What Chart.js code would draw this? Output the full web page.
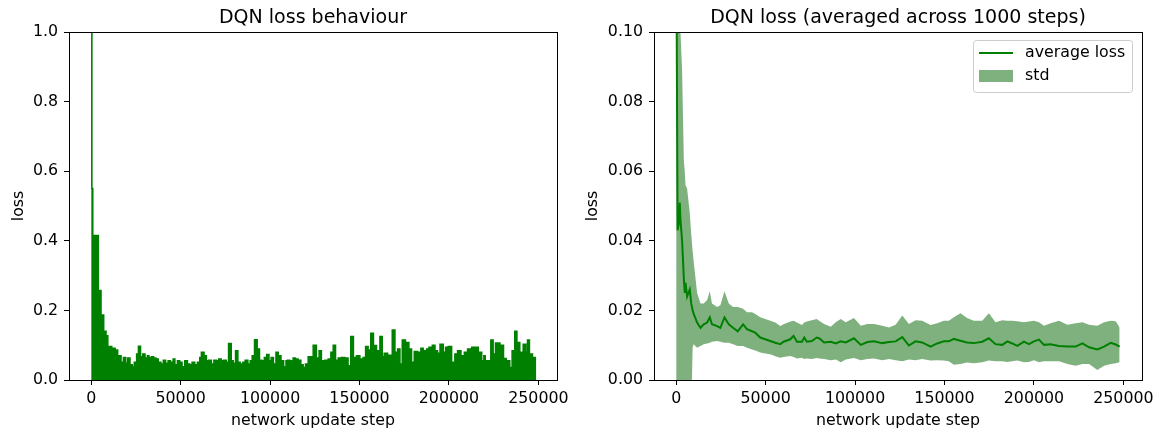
<!DOCTYPE html>
<html lang="en">
<head>
<meta charset="UTF-8">
<title>DQN loss</title>
<script src="https://cdn.jsdelivr.net/npm/chart.js"></script>
<style>
    body { margin: 0; background: #fff; }
    .wrap { position: relative; width: 1163px; height: 435px; }
    #lossChart { position: absolute; left: 0; top: 0; }
    #avgChart { position: absolute; left: 578px; top: 0; }
</style>
</head>
<body>
<div class="wrap">
    <canvas id="lossChart" width="578" height="435"></canvas>
    <canvas id="avgChart" width="585" height="435"></canvas>
</div>
<script>
const X_TICKS = [0, 50000, 100000, 150000, 200000, 250000];
const LOSS_Y_TICKS = [0, 0.2, 0.4, 0.6, 0.8, 1.0];
const AVG_Y_TICKS = [0, 0.02, 0.04, 0.06, 0.08, 0.10];

// raw loss: upper edge of the dense trace, each value holds until the next step
const LOSS_STEPS = [
    0, 400, 900, 2100, 2500, 4000, 5500, 7000, 8300, 9300,
    11500, 13400, 14800, 15600, 16700, 18000, 19300, 20400, 21700, 23000,
    24100, 25400, 26400, 27600, 28800, 30100, 31400, 32300, 33800, 34900,
    36200, 37500, 39000, 40300, 41600, 43000, 44300, 45800, 46800, 48200,
    49500, 50800, 52300, 53800, 55100, 56400, 57900, 59400, 60700, 61600,
    63100, 64400, 65700, 67200, 68600, 69900, 71200, 72700, 74000, 75500,
    76800, 78300, 79400, 80700, 82000, 83300, 84800, 86100, 87600, 88900,
    90000, 91300, 92800, 94100, 95400, 96800, 98100, 99400, 100600, 101900,
    103300, 104600, 106100, 107600, 108900, 109700, 111000, 112900, 114200, 115700,
    117200, 118500, 119800, 121300, 124100, 125900, 127400, 128700, 130600, 132500,
    134000, 135300, 136600, 138100, 139900, 141800, 143600, 145100, 146600, 148300,
    150200, 152000, 153400, 154800, 156300, 157800, 159500, 161400, 162700, 163800,
    165700, 168300, 169800, 171300, 172600, 173900, 175700, 177600, 179100, 180600,
    182500, 184300, 185600, 187500, 188800, 190700, 192200, 193600, 195000, 196800,
    198100, 199600, 201500, 203300, 204800, 206700, 208600, 210400, 212700, 216400,
    218300, 219500, 220300, 221000, 223400, 224700, 226000, 228500, 230500, 232000,
    234000, 235300, 236800, 238000, 239600, 241500, 243000, 243900, 245000, 246700,
    248300
];
const LOSS_PEAK = [
    1.2, 0.55, 0.415, 0.38, 0.415, 0.257, 0.187, 0.14, 0.127, 0.096,
    0.091, 0.086, 0.055, 0.07, 0.051, 0.065, 0.048, 0.063, 0.044, 0.038,
    0.051, 0.075, 0.097, 0.067, 0.075, 0.063, 0.07, 0.065, 0.067, 0.063,
    0.06, 0.051, 0.046, 0.057, 0.048, 0.055, 0.051, 0.06, 0.044, 0.055,
    0.051, 0.038, 0.055, 0.046, 0.044, 0.051, 0.044, 0.051, 0.065, 0.08,
    0.07, 0.055, 0.057, 0.046, 0.057, 0.055, 0.06, 0.055, 0.057, 0.051,
    0.105, 0.055, 0.048, 0.084, 0.051, 0.046, 0.051, 0.057, 0.046, 0.055,
    0.07, 0.116, 0.089, 0.057, 0.055, 0.065, 0.073, 0.055, 0.065, 0.046,
    0.08, 0.07, 0.055, 0.038, 0.055, 0.057, 0.055, 0.063, 0.06, 0.057,
    0.044, 0.036, 0.046, 0.067, 0.10, 0.063, 0.084, 0.055, 0.057, 0.06,
    0.08, 0.10, 0.057, 0.063, 0.065, 0.063, 0.041, 0.125, 0.065, 0.07,
    0.06, 0.065, 0.096, 0.086, 0.134, 0.099, 0.084, 0.125, 0.067, 0.077,
    0.071, 0.144, 0.08, 0.089, 0.046, 0.115, 0.108, 0.089, 0.051, 0.082,
    0.08, 0.091, 0.084, 0.089, 0.094, 0.10, 0.084, 0.077, 0.103, 0.08,
    0.094, 0.096, 0.051, 0.075, 0.084, 0.07, 0.08, 0.089, 0.094, 0.08,
    0.055, 0.07, 0.05, 0.055, 0.115, 0.075, 0.106, 0.10, 0.062, 0.055,
    0.036, 0.084, 0.14, 0.108, 0.08, 0.103, 0.08, 0.115, 0.075, 0.065,
    0
];

// averaged loss with its std band
const AVG_STEPS = [
    0, 300, 800, 1500, 2000, 2400, 3300, 4300, 4800, 5200,
    6100, 7600, 8400, 9200, 9800, 11700, 13600, 15400, 17300, 18800,
    20000, 22900, 24700, 27000, 29400, 31800, 34400, 37400, 39600, 42400,
    44200, 47000, 49800, 52600, 55400, 58200, 60000, 63800, 65600, 67500,
    70300, 71600, 73000, 75800, 78600, 79900, 82700, 86400, 89200, 92000,
    94800, 99400, 103200, 106900, 110600, 115200, 119000, 122700, 126400, 130100,
    133800, 137500, 142200, 145900, 149600, 152400, 155200, 158900, 162600, 166400,
    171100, 174800, 178500, 182300, 185100, 187900, 190700, 194400, 197200, 200000,
    202800, 205600, 209300, 214000, 218700, 223300, 227100, 230800, 235450, 239200,
    242900, 245700, 247900
];
const AVG_LOSS = [
    0.12, 0.10, 0.043, 0.045, 0.051, 0.046, 0.040, 0.029, 0.025, 0.028,
    0.024, 0.026, 0.022, 0.020, 0.019, 0.0165, 0.015, 0.016, 0.0165, 0.018,
    0.016, 0.0155, 0.015, 0.018, 0.016, 0.015, 0.014, 0.016, 0.0146, 0.014,
    0.0136, 0.0122, 0.0117, 0.0112, 0.0107, 0.0103, 0.011, 0.0117, 0.0127, 0.011,
    0.011, 0.0122, 0.011, 0.0112, 0.0122, 0.012, 0.0108, 0.011, 0.0105, 0.0111,
    0.0108, 0.012, 0.0101, 0.0109, 0.0111, 0.0106, 0.0109, 0.0111, 0.0123, 0.0099,
    0.0111, 0.0108, 0.0096, 0.0105, 0.0111, 0.0111, 0.0118, 0.0113, 0.0108, 0.0106,
    0.011, 0.012, 0.0103, 0.0101, 0.0111, 0.0105, 0.0098, 0.011, 0.0103, 0.0111,
    0.0116, 0.0101, 0.0103, 0.0098, 0.0096, 0.0096, 0.0105, 0.0094, 0.0088, 0.0096,
    0.0107, 0.0102, 0.0096
];
const STD_UPPER = [
    0.15, 0.15, 0.15, 0.14, 0.12, 0.10, 0.089, 0.063, 0.060, 0.056,
    0.055, 0.048, 0.042, 0.037, 0.034, 0.025, 0.022, 0.022, 0.023, 0.0255,
    0.022, 0.021, 0.0215, 0.0255, 0.022, 0.021, 0.021, 0.0205, 0.0195, 0.0195,
    0.019, 0.018, 0.0175, 0.017, 0.0165, 0.0155, 0.016, 0.0168, 0.017, 0.0165,
    0.0158, 0.0165, 0.0168, 0.0172, 0.0175, 0.017, 0.0161, 0.0153, 0.0166, 0.0175,
    0.0166, 0.0178, 0.0156, 0.0161, 0.0161, 0.0156, 0.0151, 0.0159, 0.0185, 0.0161,
    0.0172, 0.017, 0.0158, 0.0163, 0.017, 0.017, 0.018, 0.0192, 0.0178, 0.017,
    0.017, 0.0192, 0.0166, 0.0172, 0.017, 0.017, 0.0169, 0.0166, 0.0168, 0.017,
    0.0166, 0.0156, 0.0163, 0.017, 0.0159, 0.0163, 0.0166, 0.0159, 0.0156, 0.0166,
    0.017, 0.0169, 0.0151
];
const STD_LOWER = [
    -0.05, -0.05, -0.05, -0.05, -0.05, -0.05, -0.05, -0.04, -0.04, -0.03,
    -0.03, -0.02, -0.01, 0.0095, 0.0103, 0.0093, 0.0098, 0.0103, 0.0105, 0.0107,
    0.011, 0.0112, 0.011, 0.0107, 0.0107, 0.0103, 0.0098, 0.0098, 0.0093, 0.0088,
    0.0085, 0.0079, 0.0076, 0.0074, 0.0068, 0.0064, 0.0066, 0.0069, 0.0066, 0.0062,
    0.0064, 0.006, 0.0062, 0.006, 0.0063, 0.0062, 0.006, 0.0057, 0.0059, 0.0051,
    0.0059, 0.0063, 0.0057, 0.006, 0.0062, 0.0057, 0.006, 0.0057, 0.0054, 0.0059,
    0.0057, 0.006, 0.0056, 0.0057, 0.0056, 0.0054, 0.0044, 0.0046, 0.005, 0.0048,
    0.0051, 0.0056, 0.0054, 0.0054, 0.0052, 0.0054, 0.0056, 0.0051, 0.0052, 0.0057,
    0.0051, 0.0054, 0.0054, 0.0054, 0.0046, 0.0041, 0.0046, 0.0046, 0.0029, 0.0041,
    0.0046, 0.0048, 0.0051
];

const FONT_SIZE = 15.8;
Chart.defaults.font.family = '"DejaVu Sans", sans-serif';
Chart.defaults.font.size = FONT_SIZE;
Chart.defaults.color = '#000';
Chart.defaults.animation = false;

const toPoints = (xs, ys) => xs.map((x, i) => ({ x: x, y: ys[i] }));

// spines + title centred over the plot area, like matplotlib
const frame = {
    id: 'frame',
    afterDraw(chart, args, opts) {
        const ctx = chart.ctx;
        const a = chart.chartArea;
        ctx.save();
        ctx.strokeStyle = '#000';
        ctx.lineWidth = 1;
        ctx.strokeRect(Math.round(a.left) + 0.5, Math.round(a.top) + 0.5,
            Math.round(a.right - a.left), Math.round(a.bottom - a.top));
        ctx.fillStyle = '#000';
        ctx.font = '19px "DejaVu Sans"';
        ctx.textAlign = 'center';
        ctx.textBaseline = 'alphabetic';
        ctx.fillText(opts.text, (a.left + a.right) / 2, 23);
        ctx.restore();
    }
};

const legendBox = {
    id: 'legendBox',
    afterDraw(chart) {
        const ctx = chart.ctx;
        const a = chart.chartArea;
        const ds = chart.data.datasets;
        const w = 159, h = 52;
        const x = a.right - 10 - w, y = a.top + 8;
        ctx.save();
        ctx.beginPath();
        ctx.roundRect(x + 0.5, y + 0.5, w, h, 3);
        ctx.fillStyle = 'rgba(255,255,255,0.8)';
        ctx.fill();
        ctx.strokeStyle = '#cccccc';
        ctx.lineWidth = 1;
        ctx.stroke();

        ctx.beginPath();
        ctx.moveTo(x + 6, y + 13);
        ctx.lineTo(x + 40, y + 13);
        ctx.strokeStyle = ds[0].borderColor;
        ctx.lineWidth = 2;
        ctx.stroke();
        ctx.fillStyle = ds[1].backgroundColor;
        ctx.fillRect(x + 6, y + 30, 34, 12);

        ctx.fillStyle = '#000';
        ctx.font = FONT_SIZE + 'px "DejaVu Sans"';
        ctx.textBaseline = 'middle';
        ctx.fillText(ds[0].label, x + 52, y + 13);
        ctx.fillText(ds[1].label, x + 52, y + 36);
        ctx.restore();
    }
};

function makeScales(yMax, yTicks, digits, yWidth, titlePad) {
    return {
        x: {
            type: 'linear',
            min: -12400,
            max: 260400,
            afterBuildTicks: s => { s.ticks = X_TICKS.map(v => ({ value: v })); },
            afterFit: s => { s.height = 55; },
            grid: { drawOnChartArea: false, tickLength: 5, color: '#000' },
            border: { display: false },
            ticks: { padding: 4, maxRotation: 0, autoSkip: false, callback: v => String(v) },
            title: { display: true, text: 'network update step', padding: { top: 0, bottom: 5 } }
        },
        y: {
            type: 'linear',
            min: 0,
            max: yMax,
            afterBuildTicks: s => { s.ticks = yTicks.map(v => ({ value: v })); },
            afterFit: s => { s.width = yWidth; },
            grid: { drawOnChartArea: false, tickLength: 5, color: '#000' },
            border: { display: false },
            ticks: { padding: 6, callback: v => v.toFixed(digits) },
            title: { display: true, text: 'loss', padding: { top: titlePad, bottom: 0 } }
        }
    };
}

function renderLossChart() {
    const ctx = document.getElementById('lossChart').getContext('2d');
    new Chart(ctx, {
        type: 'line',
        data: {
            datasets: [{
                label: 'loss',
                data: toPoints(LOSS_STEPS, LOSS_PEAK),
                borderColor: '#008000',
                backgroundColor: '#008000',
                borderWidth: 1.5,
                stepped: true,
                fill: 'origin',
                pointRadius: 0
            }]
        },
        options: {
            responsive: false,
            devicePixelRatio: 1,
            events: [],
            layout: { padding: { top: 32, right: 21, left: 0, bottom: 0 } },
            scales: makeScales(1.0, LOSS_Y_TICKS, 1, 69, 9),
            plugins: {
                legend: { display: false },
                tooltip: { enabled: false },
                frame: { text: 'DQN loss behaviour' }
            }
        },
        plugins: [frame]
    });
}

function renderAvgChart() {
    const ctx = document.getElementById('avgChart').getContext('2d');
    new Chart(ctx, {
        type: 'line',
        data: {
            datasets: [
                {
                    label: 'average loss',
                    data: toPoints(AVG_STEPS, AVG_LOSS),
                    borderColor: '#008000',
                    borderWidth: 2,
                    fill: false,
                    pointRadius: 0
                },
                {
                    label: 'std',
                    data: toPoints(AVG_STEPS, STD_UPPER),
                    borderColor: 'rgba(0,0,0,0)',
                    backgroundColor: 'rgba(0,100,0,0.5)',
                    borderWidth: 0,
                    fill: '+1',
                    pointRadius: 0
                },
                {
                    label: 'std lower',
                    data: toPoints(AVG_STEPS, STD_LOWER),
                    borderColor: 'rgba(0,0,0,0)',
                    borderWidth: 0,
                    fill: false,
                    pointRadius: 0
                }
            ]
        },
        options: {
            responsive: false,
            devicePixelRatio: 1,
            events: [],
            layout: { padding: { top: 32, right: 21, left: 0, bottom: 0 } },
            scales: makeScales(0.10, AVG_Y_TICKS, 2, 76, 5),
            plugins: {
                legend: { display: false },
                tooltip: { enabled: false },
                frame: { text: 'DQN loss (averaged across 1000 steps)' }
            }
        },
        plugins: [frame, legendBox]
    });
}

renderLossChart();
renderAvgChart();
</script>
</body>
</html>
